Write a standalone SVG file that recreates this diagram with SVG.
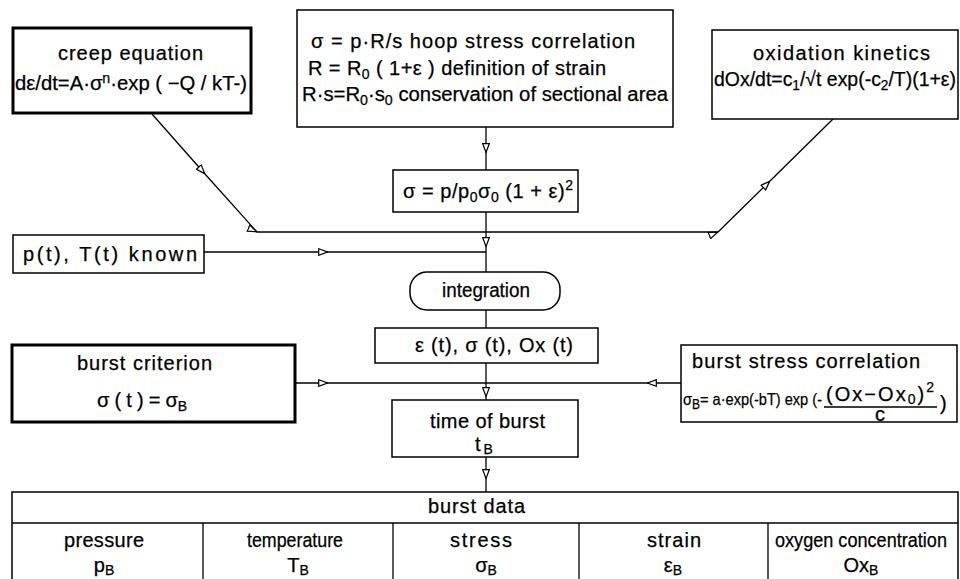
<svg xmlns="http://www.w3.org/2000/svg" width="960" height="579" viewBox="0 0 960 579">
<style>
text{font-family:"Liberation Sans","DejaVu Sans",sans-serif;font-size:20px;fill:#000;stroke:#000;stroke-width:0.25}
.box{fill:#fff;stroke:#000;stroke-width:1.5}
.thick{fill:#fff;stroke:#000;stroke-width:3}
.ln{fill:none;stroke:#000;stroke-width:1.3}
.c{text-anchor:middle}
.sub{font-size:14px}
.sq{font-size:17px}
</style>
<defs>
<marker id="ah" viewBox="0 0 10 8" refX="10" refY="4" markerWidth="10" markerHeight="8" markerUnits="userSpaceOnUse" orient="auto">
<path d="M0.7,0.7 L9.5,4 L0.7,7.3 Z" fill="#fff" stroke="#000" stroke-width="1.2"/>
</marker>
</defs>
<rect width="960" height="579" fill="#fff"/>

<g id="connectors">
<path class="ln" d="M152,114 L205,174 L257,232 L718,232 L770,181 L833,119" marker-mid="url(#ah)"/>
<path class="ln" d="M486,127 L486,153 L486,170" marker-mid="url(#ah)"/>
<path class="ln" d="M486,212 L486,247 L486,272" marker-mid="url(#ah)"/>
<path class="ln" d="M204,252 L328,252 L486,252" marker-mid="url(#ah)"/>
<path class="ln" d="M486,310 L486,328"/>
<path class="ln" d="M486,363 L486,397 L486,400" marker-mid="url(#ah)"/>
<path class="ln" d="M295,383 L328,383 L486,383" marker-mid="url(#ah)"/>
<path class="ln" d="M681,383 L647,383 L486,383" marker-mid="url(#ah)"/>
<path class="ln" d="M486,457 L486,479 L486,492" marker-mid="url(#ah)"/>
</g>

<g id="creep">
<rect class="thick" x="13" y="28" width="238" height="85"/>
<text x="58" y="60" font-size="19" textLength="145">creep equation</text>
<text x="15" y="90" textLength="232" lengthAdjust="spacingAndGlyphs">dε/dt=A·σ<tspan class="sub" dy="-7">n</tspan><tspan dy="7">·exp ( −Q / kT-)</tspan></text>
</g>

<g id="hoop">
<rect class="box" x="297" y="10" width="376" height="117"/>
<text x="311" y="48" textLength="324">σ = p·R/s  hoop stress correlation</text>
<text x="308" y="75" textLength="298">R = R<tspan class="sub" dy="4">0</tspan><tspan dy="-4"> ( 1+ε ) definition of strain</tspan></text>
<text x="302" y="101" textLength="366" lengthAdjust="spacingAndGlyphs">R·s=R<tspan class="sub" dy="4">0</tspan><tspan dy="-4">·s</tspan><tspan class="sub" dy="4">0</tspan><tspan dy="-4"> conservation of sectional area</tspan></text>
</g>

<g id="oxidation">
<rect class="box" x="712" y="30" width="246" height="89"/>
<text x="753" y="60" textLength="177">oxidation kinetics</text>
<text x="714" y="86" textLength="242" lengthAdjust="spacingAndGlyphs">dOx/dt=c<tspan class="sub" dy="4">1</tspan><tspan dy="-4">/√t exp(-c</tspan><tspan class="sub" dy="4">2</tspan><tspan dy="-4">/T)(1+ε)</tspan></text>
</g>

<g id="stress">
<rect class="box" x="393" y="170" width="185" height="42"/>
<text x="403" y="198" textLength="170">σ = p/p<tspan class="sub" dy="4">0</tspan><tspan dy="-4">σ</tspan><tspan class="sub" dy="4">0</tspan><tspan dy="-4"> (1 + ε)</tspan><tspan class="sub" dy="-8">2</tspan></text>
</g>

<g id="known">
<rect class="box" x="13" y="235" width="191" height="38"/>
<text x="23" y="261" textLength="174">p(t), T(t)  known</text>
</g>

<g id="integration">
<rect class="box" x="410" y="272" width="150" height="38" rx="17"/>
<text x="442" y="297" textLength="88" lengthAdjust="spacingAndGlyphs">integration</text>
</g>

<g id="results">
<rect class="box" x="375" y="328" width="223" height="35"/>
<text x="415" y="352" textLength="158">ε (t), σ (t), Ox (t)</text>
</g>

<g id="criterion">
<rect class="thick" x="12" y="345" width="283" height="77"/>
<text x="77" y="370" textLength="135">burst criterion</text>
<text x="97" y="407" textLength="90">σ ( t ) = σ<tspan class="sub" dy="4">B</tspan></text>
</g>

<g id="correlation">
<rect class="box" x="681" y="345" width="276" height="77"/>
<text x="692" y="368" textLength="228">burst stress correlation</text>
<text class="sq" x="683" y="405" textLength="139" lengthAdjust="spacingAndGlyphs">σ<tspan class="sub" dy="4">B</tspan><tspan dy="-4">= a·exp(-bT) exp (-</tspan></text>
<text x="826" y="401" font-size="19" textLength="108">(Ox−Ox<tspan class="sub" dy="3">0</tspan><tspan dy="-3">)</tspan><tspan class="sub" dy="-9">2</tspan></text>
<line x1="824" y1="407" x2="937" y2="407" stroke="#000" stroke-width="1.3"/>
<text class="c" x="880" y="421" font-size="17">c</text>
<text x="940" y="410" font-size="19">)</text>
</g>

<g id="burst-time">
<rect class="box" x="392" y="400" width="186" height="57"/>
<text x="430" y="428" textLength="115">time of burst</text>
<text x="475" y="451">t<tspan class="sub" dx="3" dy="3">B</tspan></text>
</g>

<g id="burst-data">
<rect class="box" x="12" y="492" width="946" height="100"/>
<line class="ln" x1="12" y1="523" x2="958" y2="523"/>
<line class="ln" x1="203" y1="523" x2="203" y2="592"/>
<line class="ln" x1="393" y1="523" x2="393" y2="592"/>
<line class="ln" x1="579" y1="523" x2="579" y2="592"/>
<line class="ln" x1="768" y1="523" x2="768" y2="592"/>
<text x="428" y="513" textLength="97">burst data</text>
<text x="64" y="547" textLength="80">pressure</text>
<text x="247" y="547" textLength="96" lengthAdjust="spacingAndGlyphs">temperature</text>
<text x="450" y="547" textLength="62">stress</text>
<text x="647" y="547" textLength="54">strain</text>
<text x="775" y="547" textLength="172" lengthAdjust="spacingAndGlyphs">oxygen concentration</text>
<text class="c" x="104" y="572">p<tspan class="sub" dy="3">B</tspan></text>
<text class="c" x="298" y="572">T<tspan class="sub" dy="3">B</tspan></text>
<text class="c" x="486" y="572">σ<tspan class="sub" dy="3">B</tspan></text>
<text class="c" x="673" y="572">ε<tspan class="sub" dy="3">B</tspan></text>
<text class="c" x="861" y="572">Ox<tspan class="sub" dy="3">B</tspan></text>
</g>
</svg>
